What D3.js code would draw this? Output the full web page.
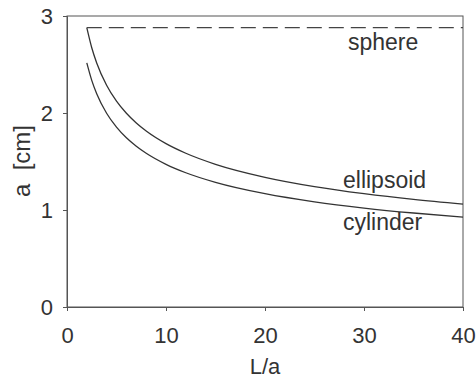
<!DOCTYPE html>
<html><head><meta charset="utf-8">
<script src="https://cdn.jsdelivr.net/npm/d3@7"></script>
<style>body{margin:0;background:#fff}svg{display:block}text{font-family:"Liberation Sans",Arial,sans-serif;fill:#333}</style>
</head><body>
<svg id="c" width="476" height="382"></svg>
<script>
const xTicks = [0, 10, 20, 30, 40];
const yTicks = [0, 1, 2, 3];
const xVals = [2, 2.5, 3, 4, 5, 6, 7, 8, 10, 12, 15, 20, 25, 30, 35, 40];
const ellipsoid = [2.88, 2.673, 2.516, 2.286, 2.122, 1.997, 1.897, 1.814, 1.684, 1.585, 1.471, 1.337, 1.241, 1.168, 1.109, 1.061];
const cylinder = [2.516, 2.336, 2.198, 1.997, 1.854, 1.744, 1.657, 1.585, 1.471, 1.384, 1.285, 1.168, 1.084, 1.020, 0.969, 0.927];
const sphereX = [2, 40];
const sphere = [2.88, 2.88];
const seriesLabels = ["sphere", "ellipsoid", "cylinder"];

const svg = d3.select("#c");
const m = {l: 67, r: 13, t: 16, b: 75};
const W = 476, H = 382;
const x = d3.scaleLinear().domain([0, 40]).range([m.l, W - m.r]);
const y = d3.scaleLinear().domain([0, 3]).range([H - m.b, m.t]);
const stroke = "#333";

svg.append("rect").attr("x", m.l).attr("y", m.t).attr("width", x(40) - m.l).attr("height", y(0) - m.t)
  .attr("fill", "none").attr("stroke", "#555").attr("stroke-width", 1);

const xa = svg.append("g").attr("transform", `translate(0,${y(0)})`)
  .call(d3.axisBottom(x).tickValues(xTicks).tickFormat(d3.format("d")).tickSize(4).tickPadding(16));
const ya = svg.append("g").attr("transform", `translate(${m.l},0)`)
  .call(d3.axisLeft(y).tickValues(yTicks).tickFormat(d3.format("d")).tickSize(4).tickPadding(10));
[xa, ya].forEach(g => {
  g.selectAll("path,line").attr("stroke", "#555");
  g.selectAll("text").style("font-size", "22px").attr("fill", "#333");
});

const line = d3.line().x(d => x(d[0])).y(d => y(d[1])).curve(d3.curveMonotoneX);
svg.append("path").datum(xVals.map((v, i) => [v, ellipsoid[i]])).attr("d", line)
  .attr("fill", "none").attr("stroke", stroke).attr("stroke-width", 1.3);
svg.append("path").datum(xVals.map((v, i) => [v, cylinder[i]])).attr("d", line)
  .attr("fill", "none").attr("stroke", stroke).attr("stroke-width", 1.3);
svg.append("path").datum(sphereX.map((v, i) => [v, sphere[i]])).attr("d", d3.line().x(d => x(d[0])).y(d => y(d[1])))
  .attr("fill", "none").attr("stroke", "#444").attr("stroke-width", 1.1).attr("stroke-dasharray", "15,7");

svg.append("text").attr("x", 348).attr("y", 50).style("font-size", "23px").text(seriesLabels[0]);
svg.append("text").attr("x", 343).attr("y", 188).style("font-size", "23px").text(seriesLabels[1]);
svg.append("text").attr("x", 343).attr("y", 230).style("font-size", "23px").text(seriesLabels[2]);

svg.append("text").attr("x", x(20)).attr("y", 374).attr("text-anchor", "middle").style("font-size", "22px").text("L/a");
svg.append("text").attr("transform", `translate(30,161) rotate(-90)`).attr("text-anchor", "middle")
  .style("font-size", "24px").style("white-space", "pre").text("a  [cm]");
</script>
</body></html>
